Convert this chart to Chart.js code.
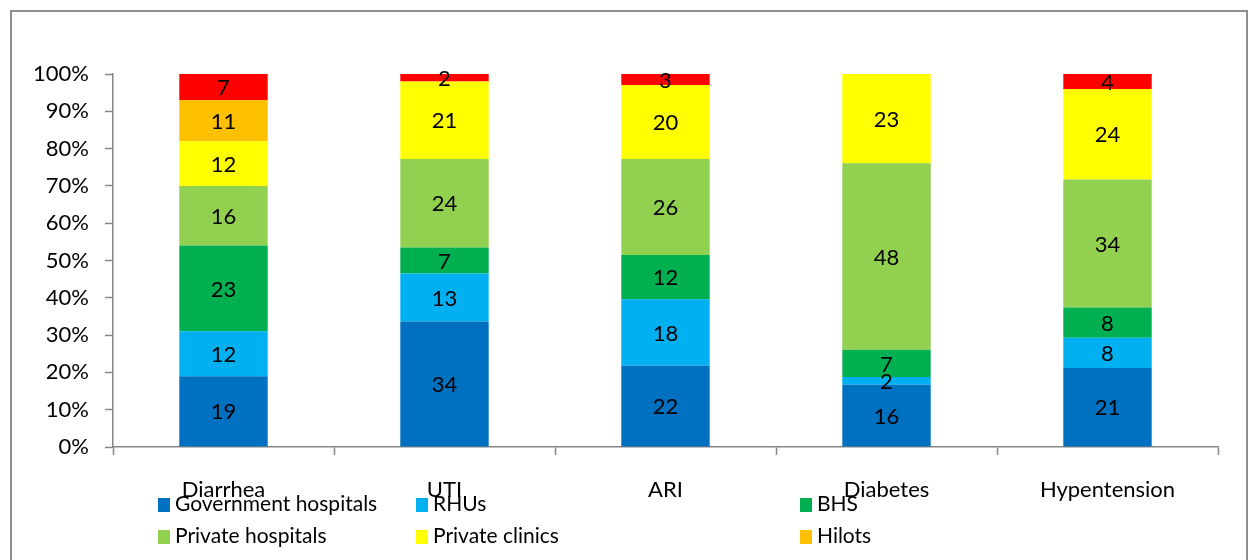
<!DOCTYPE html>
<html>
<head>
<meta charset="utf-8">
<script src="https://cdn.jsdelivr.net/npm/chart.js@4"></script>
<style>
  html, body { margin: 0; padding: 0; background: #fff; }
  #wrap { position: relative; width: 1248px; height: 560px; overflow: hidden; font-family: Lato, sans-serif; }
  #frame { position: absolute; left: 10px; top: 10px; width: 1238px; height: 600px; border: 2px solid #8f8f8f; border-right-width: 2px; box-sizing: border-box; }
  #myChart { position: absolute; left: 0; top: 0; }
  .leg { position: absolute; font-size: 21px; color: #000; line-height: 24px; white-space: nowrap; }
  .leg i { display: inline-block; width: 12px; height: 14px; margin-right: 5px; vertical-align: -1px; }
</style>
</head>
<body>
<div id="wrap">
  <div id="frame"></div>
  <canvas id="myChart" width="1248" height="560"></canvas>
  <div id="legend"></div>
</div>
<script>
const categories = ['Diarrhea', 'UTI', 'ARI', 'Diabetes', 'Hypentension'];
const seriesNames = ['Government hospitals', 'RHUs', 'BHS', 'Private hospitals', 'Private clinics', 'Hilots', 'Others'];
const govHospitals = [19, 34, 22, 16, 21];
const rhus = [12, 13, 18, 2, 8];
const bhs = [23, 7, 12, 7, 8];
const privateHospitals = [16, 24, 26, 48, 34];
const privateClinics = [12, 21, 20, 23, 24];
const hilots = [11, 0, 0, 0, 0];
const others = [7, 2, 3, 0, 4];
const colors = ['#0070C0', '#00B0F0', '#00B050', '#92D050', '#FFFF00', '#FFC000', '#FF0000'];
const yTicks = [0, 10, 20, 30, 40, 50, 60, 70, 80, 90, 100];

const raw = [govHospitals, rhus, bhs, privateHospitals, privateClinics, hilots, others];
// 100% stacked: each column is scaled to its own total
const totals = categories.map((c, i) => raw.reduce((s, arr) => s + arr[i], 0));

const datasets = raw.map((arr, k) => ({
  label: seriesNames[k],
  data: arr.map((v, i) => v / totals[i] * 100),
  rawValues: arr,
  backgroundColor: colors[k],
  categoryPercentage: 1,
  barPercentage: 0.4
}));

// value labels in the middle of each segment
const segLabels = {
  id: 'segLabels',
  afterDatasetsDraw(chart) {
    const ctx = chart.ctx;
    ctx.save();
    ctx.font = '22px Lato';
    ctx.fillStyle = '#000';
    ctx.textAlign = 'center';
    ctx.textBaseline = 'middle';
    chart.data.datasets.forEach((ds, k) => {
      chart.getDatasetMeta(k).data.forEach((bar, i) => {
        const v = ds.rawValues[i];
        if (!v) return;
        ctx.fillText(String(v), bar.x, (bar.y + bar.base) / 2 + 1);
      });
    });
    ctx.restore();
  }
};

const ctx = document.getElementById('myChart');
new Chart(ctx, {
  type: 'bar',
  data: { labels: categories, datasets: datasets },
  options: {
    responsive: false,
    animation: false,
    layout: { padding: { top: 74, right: 30, left: 0, bottom: 0 } },
    plugins: {
      legend: { display: false },
      tooltip: { enabled: false }
    },
    scales: {
      x: {
        stacked: true,
        grid: { drawOnChartArea: false, color: '#868686', tickLength: 8, tickWidth: 1.5 },
        border: { color: '#868686', width: 1.5 },
        ticks: { color: '#000', font: { family: 'Lato', size: 22 }, padding: 22, maxRotation: 0 },
        afterFit: s => { s.height = 113; }
      },
      y: {
        stacked: true,
        min: 0,
        max: 100,
        afterBuildTicks: s => { s.ticks = yTicks.map(v => ({ value: v })); },
        grid: { drawOnChartArea: false, color: '#868686', tickLength: 8, tickWidth: 1.5 },
        border: { color: '#868686', width: 1.5 },
        ticks: { color: '#000', font: { family: 'Lato', size: 22 }, padding: 16, callback: v => v + '%' },
        afterFit: s => { s.width = 113; }
      }
    }
  },
  plugins: [segLabels]
});

// legend laid out as in the original (3 columns, last row clipped)
const legendPos = [[158, 491], [416, 491], [800, 491], [158, 523], [416, 523], [800, 523]];
const legend = document.getElementById('legend');
legendPos.forEach((p, k) => {
  const d = document.createElement('div');
  d.className = 'leg';
  d.style.left = p[0] + 'px';
  d.style.top = p[1] + 'px';
  d.innerHTML = '<i style="background:' + colors[k] + '"></i>' + seriesNames[k];
  legend.appendChild(d);
});
</script>
</body>
</html>
